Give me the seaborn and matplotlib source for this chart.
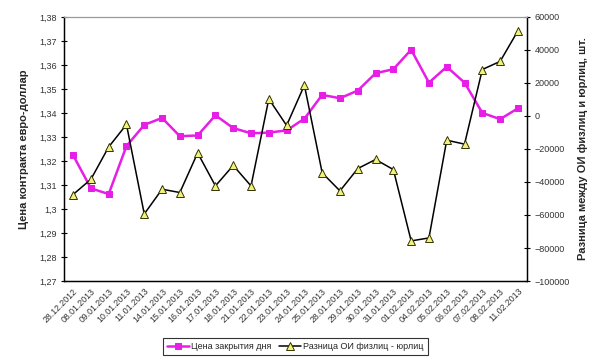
import matplotlib
matplotlib.use("Agg")
import matplotlib.pyplot as plt
from matplotlib.ticker import FuncFormatter, MultipleLocator
import pandas as pd
import seaborn as sns

dates = ["28.12.2012", "08.01.2013", "09.01.2013", "10.01.2013", "11.01.2013", "14.01.2013",
         "15.01.2013", "16.01.2013", "17.01.2013", "18.01.2013", "21.01.2013", "22.01.2013",
         "23.01.2013", "24.01.2013", "25.01.2013", "28.01.2013", "29.01.2013", "30.01.2013",
         "31.01.2013", "01.02.2013", "04.02.2013", "05.02.2013", "06.02.2013", "07.02.2013",
         "08.02.2013", "11.02.2013"]
close_price = [1.3224, 1.3086, 1.3062, 1.3262, 1.3350, 1.3379, 1.3303, 1.3306, 1.3390, 1.3337,
               1.3315, 1.3318, 1.3327, 1.3376, 1.3475, 1.3461, 1.3493, 1.3565, 1.3582, 1.3663,
               1.3526, 1.3592, 1.3526, 1.3400, 1.3374, 1.3419]
oi_diff = [-47600, -38400, -18800, -5200, -59400, -44400, -46400, -22400, -42400, -30000,
           -42400, 10300, -5800, 18600, -34500, -45400, -31900, -26400, -32500, -75700,
           -73900, -14700, -17100, 28100, 33000, 51500]

df = pd.DataFrame({"pos": range(len(dates)), "date": dates,
                   "price": close_price, "diff": oi_diff})

sns.set_style("white")
plt.rcParams["font.family"] = ["Liberation Sans", "DejaVu Sans"]

fig, ax = plt.subplots(figsize=(6.0, 3.58), dpi=100)
fig.subplots_adjust(left=0.107, right=0.878, top=0.953, bottom=0.215)
ax2 = ax.twinx()

sns.lineplot(data=df, x="pos", y="price", ax=ax, color="#E61EE6", lw=1.8, marker="s",
             markersize=5, markeredgecolor="#E61EE6", label="Цена закрытия дня", legend=False)
sns.lineplot(data=df, x="pos", y="diff", ax=ax2, color="black", lw=1.1, marker="^",
             markersize=6, markerfacecolor="#F2F27A", markeredgecolor="#333300",
             markeredgewidth=0.7, label="Разница ОИ физлиц - юрлиц", legend=False)

ax.set_xlim(-0.5, len(dates) - 0.5)
ax.set_ylim(1.27, 1.38)
ax2.set_ylim(-100000, 60000)
ax.yaxis.set_major_locator(MultipleLocator(0.01))
ax2.yaxis.set_major_locator(MultipleLocator(20000))
ax.yaxis.set_major_formatter(FuncFormatter(lambda v, p: f"{v:.2f}".rstrip("0").rstrip(".").replace(".", ",")))

ax.set_xticks(df["pos"])
ax.set_xticklabels(dates, rotation=45, ha="right", rotation_mode="anchor", fontsize=6.3,
                   color="#333333")
ax.set_xticks([i - 0.5 for i in range(len(dates) + 1)], minor=True)
ax.tick_params(axis="x", which="major", length=0, pad=4)
ax.tick_params(axis="x", which="minor", length=4, width=0.8, direction="inout", color="black")
ax.tick_params(axis="y", length=4, width=0.8, direction="inout", labelsize=6.5,
               labelcolor="#333333", color="black")
ax2.tick_params(axis="y", length=4, width=0.8, direction="inout", labelsize=6.5,
                labelcolor="#333333", color="black")

ax.set_xlabel("")
ax.set_ylabel("Цена контракта евро-доллар", fontsize=8, fontweight="bold", labelpad=7)
ax2.set_ylabel("Разница между ОИ физлиц и юрлиц, шт.", fontsize=8, fontweight="bold", labelpad=6)

for a in (ax, ax2):
    for side in ("left", "bottom", "right"):
        a.spines[side].set_color("black")
        a.spines[side].set_linewidth(0.9)
    a.spines["top"].set_color("#999999")
    a.spines["top"].set_linewidth(0.8)

h1, l1 = ax.get_legend_handles_labels()
h2, l2 = ax2.get_legend_handles_labels()
leg = fig.legend(h1 + h2, l1 + l2, loc="center", bbox_to_anchor=(0.492, 0.031),
                 ncol=2, fontsize=6.5, frameon=True, fancybox=False, edgecolor="black",
                 borderpad=0.45, handlelength=2.5, columnspacing=0.8, handletextpad=0.2)
leg.get_frame().set_linewidth(0.8)

fig.savefig("out.png", dpi=100)
